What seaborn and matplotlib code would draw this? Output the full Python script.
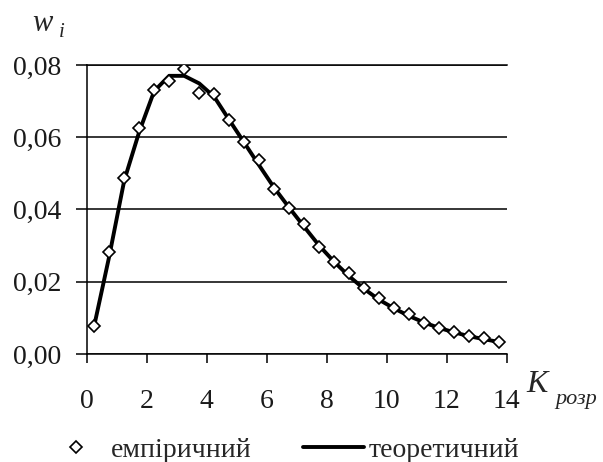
import matplotlib
matplotlib.use("Agg")
import matplotlib.pyplot as plt
import seaborn as sns
import pandas as pd

# ---- data ----
k_emp = [0.25, 0.75, 1.25, 1.75, 2.25, 2.75, 3.25, 3.75, 4.25, 4.75,
         5.25, 5.75, 6.25, 6.75, 7.25, 7.75, 8.25, 8.75, 9.25, 9.75,
         10.25, 10.75, 11.25, 11.75, 12.25, 12.75, 13.25, 13.75]
w_emp = [0.0078, 0.0283, 0.0486, 0.0626, 0.0730, 0.0756, 0.0788, 0.0723,
         0.0721, 0.0649, 0.0586, 0.0537, 0.0458, 0.0403, 0.0360, 0.0297,
         0.0254, 0.0223, 0.0182, 0.0154, 0.0126, 0.0111, 0.0087, 0.0071,
         0.0060, 0.0050, 0.0045, 0.0034]
k_theor = [0.25, 0.75, 1.25, 1.75, 2.25, 2.75, 3.25, 3.75, 4.25, 4.75,
           5.25, 5.75, 6.25, 6.75, 7.25, 7.75, 8.25, 8.75, 9.25, 9.75,
           10.25, 10.75, 11.25, 11.75, 12.25, 12.75, 13.25, 13.75]
w_theor = [0.0078, 0.0270, 0.0480, 0.0615, 0.0728, 0.0770, 0.0770, 0.0749,
           0.0712, 0.0648, 0.0585, 0.0522, 0.0460, 0.0405, 0.0352, 0.0300,
           0.0255, 0.0215, 0.0180, 0.0150, 0.0126, 0.0105, 0.0087, 0.0072,
           0.0060, 0.0049, 0.0041, 0.0033]
x_ticks = [0, 2, 4, 6, 8, 10, 12, 14]
x_tick_labels = ["0", "2", "4", "6", "8", "10", "12", "14"]
y_ticks = [0.00, 0.02, 0.04, 0.06, 0.08]
y_tick_labels = ["0,00", "0,02", "0,04", "0,06", "0,08"]
series_labels = ["емпіричний", "теоретичний"]
y_title = ("w", "i")
x_title = ("K", "розр")

df_emp = pd.DataFrame({"k": k_emp, "w": w_emp})
df_theor = pd.DataFrame({"k": k_theor, "w": w_theor})

sns.set_theme(style="white")
plt.rcParams["font.family"] = ["Liberation Serif", "DejaVu Serif"]
plt.rcParams["font.size"] = 20

fig = plt.figure(figsize=(6.03, 4.62), dpi=100)
ax = fig.add_axes([0.1438, 0.2338, 0.6965, 0.6255])

sns.lineplot(data=df_theor, x="k", y="w", ax=ax, color="black",
             linewidth=2.8, label=series_labels[1], zorder=2)
sns.lineplot(data=df_emp, x="k", y="w", ax=ax, color="black",
             linestyle="", marker="D", markersize=6.3,
             markerfacecolor="white", markeredgecolor="black",
             markeredgewidth=1.2, label=series_labels[0], zorder=3)

ax.set_xlim(0, 14)
ax.set_ylim(0, 0.08)
ax.set_xticks(x_ticks)
ax.set_xticklabels(x_tick_labels)
ax.set_yticks(y_ticks)
ax.set_yticklabels(y_tick_labels)
ax.set_xlabel("")
ax.set_ylabel("")

ax.grid(axis="y", color="black", linewidth=1.1)
ax.grid(axis="x", visible=False)
ax.set_axisbelow(True)

for side in ["left", "bottom", "top"]:
    ax.spines[side].set_visible(True)
    ax.spines[side].set_color("black")
    ax.spines[side].set_linewidth(1.1)
ax.spines["right"].set_visible(False)

ax.tick_params(axis="y", direction="out", length=8, width=1.1, color="black",
               pad=10, labelsize=20, left=True, labelcolor="#1a1a1a")
ax.tick_params(axis="x", direction="out", length=6.5, width=1.1, color="black",
               pad=19, labelsize=20, bottom=True, labelcolor="#1a1a1a")

# axis titles
fig.text(32 / 603, 1 - 31 / 462, y_title[0], fontsize=22, fontstyle="italic",
         va="baseline", ha="left")
fig.text(59 / 603, 1 - 37 / 462, y_title[1], fontsize=15, fontstyle="italic",
         va="baseline", ha="left")
fig.text(526 / 603, 1 - 392 / 462, x_title[0], fontsize=23, fontstyle="italic",
         va="baseline", ha="left")
fig.text(555 / 603, 1 - 404 / 462, x_title[1], fontsize=16, fontstyle="italic",
         va="baseline", ha="left")

handles, labels = ax.get_legend_handles_labels()
order = [labels.index(series_labels[0]), labels.index(series_labels[1])]
ax.get_legend().remove()
fig.legend([handles[i] for i in order], [labels[i] for i in order],
           loc="center", bbox_to_anchor=(0.468, 0.026), ncol=2, frameon=False,
           fontsize=20, handlelength=2.2, handletextpad=0.15,
           columnspacing=1.87, borderpad=0, borderaxespad=0)

fig.savefig("out.png", dpi=100)
